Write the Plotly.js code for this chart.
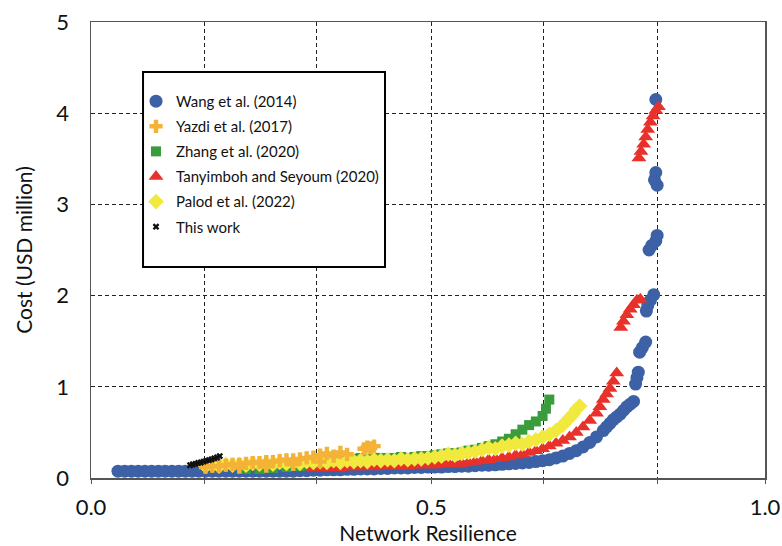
<!DOCTYPE html>
<html>
<head>
<meta charset="utf-8">
<script src="https://cdn.plot.ly/plotly-3.0.1.min.js"></script>
<style>html,body{margin:0;padding:0;background:#fff;}#chart{width:782px;height:546px;}</style>
</head>
<body>
<div id="chart"></div>
<script>
// ---- Data ----
const seriesNames = ["Wang et al. (2014)", "Yazdi et al. (2017)", "Zhang et al. (2020)", "Tanyimboh and Seyoum (2020)", "Palod et al. (2022)", "This work"];

const wangX = [0.04,0.05,0.06,0.07,0.08,0.09,0.10,0.11,0.12,0.13,0.14,0.15,0.16,0.17,0.18,0.19,0.20,0.21,0.22,0.23,0.24,0.25,0.26,0.27,0.28,0.29,0.30,
  0.31,0.32,0.33,0.34,0.35,0.36,0.37,0.38,0.39,0.40,0.41,0.42,0.43,0.44,0.45,0.46,0.47,0.48,0.49,0.50,0.51,0.52,0.53,0.54,0.55,0.56,0.57,0.58,0.59,0.60,
  0.61,0.62,0.63,0.64,0.65,0.66,0.67,0.68,0.69,0.70,0.71,0.72,0.73,0.74,0.75,0.76,0.765,0.77,0.775,0.78,0.785,0.79,0.795,0.80,0.805,
  0.808,0.810,0.812,0.814,0.818,0.823,0.824,0.826,0.830,0.835,0.828,0.832,0.838,0.840,0.840,0.836,0.838,0.838];
const wangY = [0.075,0.075,0.075,0.075,0.075,0.075,0.075,0.075,0.075,0.075,0.075,0.075,0.075,0.075,0.075,0.075,0.075,0.075,0.075,0.075,0.075,0.075,0.075,0.075,0.075,0.075,0.075,
  0.08,0.08,0.085,0.085,0.09,0.09,0.09,0.095,0.095,0.10,0.10,0.10,0.105,0.105,0.11,0.11,0.11,0.115,0.115,0.12,0.12,0.12,0.125,0.125,0.13,0.13,0.135,0.14,0.14,0.145,
  0.15,0.155,0.16,0.165,0.17,0.18,0.19,0.20,0.22,0.24,0.27,0.30,0.34,0.39,0.45,0.52,0.56,0.60,0.64,0.67,0.70,0.74,0.78,0.81,0.84,
  1.03,1.10,1.16,1.38,1.43,1.49,1.83,1.89,1.95,2.01,2.50,2.55,2.60,2.66,3.21,3.27,3.35,4.15];

const yazdiX = [0.17,0.18,0.19,0.20,0.21,0.22,0.23,0.24,0.25,0.26,0.27,0.28,0.29,0.30,0.31,0.32,0.33,0.34,0.35,0.36,0.37,0.38,0.405,0.41,0.415,0.42,
  0.22,0.26,0.30,0.34];
const yazdiY = [0.12,0.13,0.13,0.14,0.15,0.15,0.16,0.17,0.17,0.18,0.18,0.19,0.20,0.20,0.21,0.22,0.23,0.25,0.27,0.24,0.28,0.26,0.32,0.34,0.33,0.35,
  0.12,0.13,0.15,0.18];

const zhangX = [0.23,0.25,0.27,0.29,0.31,0.33,0.34,0.35,0.36,0.37,0.38,0.39,0.40,0.41,0.42,0.43,0.44,0.45,0.46,0.47,0.48,0.49,0.50,0.51,0.52,0.53,0.54,0.55,0.56,0.57,0.58,0.59,0.60,0.61,0.62,0.63,0.64,0.65,0.66,0.67,0.675,0.68];
const zhangY = [0.10,0.10,0.11,0.12,0.13,0.16,0.19,0.20,0.21,0.20,0.21,0.21,0.22,0.21,0.22,0.22,0.21,0.22,0.23,0.22,0.23,0.24,0.24,0.25,0.26,0.27,0.27,0.28,0.30,0.31,0.33,0.35,0.37,0.40,0.43,0.48,0.53,0.58,0.62,0.68,0.76,0.86];

const tanyX = [0.33,0.34,0.35,0.36,0.37,0.38,0.39,0.40,0.41,0.42,0.43,0.44,0.45,0.46,0.47,0.48,0.49,0.50,0.51,0.52,0.53,0.54,0.55,0.56,0.57,0.58,0.59,0.60,
  0.61,0.62,0.63,0.64,0.65,0.66,0.67,0.68,0.69,0.70,0.71,0.72,0.73,0.74,0.75,0.755,0.76,0.765,0.77,0.775,0.78,
  0.786,0.790,0.795,0.800,0.805,0.810,0.815,
  0.813,0.816,0.820,0.823,0.826,0.830,0.834,0.838,0.842];
const tanyY = [0.11,0.12,0.11,0.12,0.11,0.12,0.12,0.12,0.13,0.12,0.13,0.13,0.13,0.14,0.13,0.14,0.14,0.15,0.14,0.15,0.16,0.15,0.16,0.17,0.18,0.19,0.20,0.21,
  0.22,0.23,0.25,0.26,0.28,0.30,0.32,0.35,0.38,0.41,0.45,0.50,0.56,0.63,0.71,0.78,0.86,0.92,0.98,1.06,1.15,
  1.65,1.72,1.79,1.85,1.90,1.95,1.96,
  3.51,3.58,3.66,3.74,3.82,3.90,3.97,4.03,4.07];

const palodX = [0.17,0.18,0.19,0.20,0.21,0.22,0.23,0.24,0.25,0.26,0.27,0.28,0.29,0.30,0.31,0.32,0.33,0.34,0.35,0.36,0.37,0.38,0.39,0.40,0.41,0.42,0.43,0.44,0.45,0.46,0.47,0.48,0.49,0.50,
  0.51,0.52,0.53,0.54,0.55,0.56,0.57,0.58,0.59,0.60,0.61,0.62,0.63,0.64,0.65,0.66,0.67,0.68,0.69,0.70,0.705,0.71,0.715,0.72,0.725];
const palodY = [0.13,0.14,0.13,0.15,0.14,0.15,0.14,0.16,0.15,0.16,0.15,0.17,0.16,0.17,0.16,0.18,0.17,0.18,0.17,0.19,0.17,0.19,0.18,0.19,0.18,0.20,0.19,0.20,0.19,0.21,0.20,0.21,0.21,0.22,
  0.23,0.24,0.26,0.25,0.27,0.28,0.29,0.31,0.33,0.32,0.35,0.36,0.38,0.37,0.40,0.42,0.45,0.48,0.52,0.58,0.62,0.66,0.70,0.75,0.79];

const thisX = [0.147,0.151,0.155,0.159,0.163,0.167,0.171,0.175,0.179,0.183,0.187,0.191];
const thisY = [0.14,0.15,0.155,0.165,0.17,0.18,0.19,0.195,0.205,0.215,0.225,0.24];

const xTickVals = [0, 0.168, 0.335, 0.505, 0.671, 0.84, 1.0];
const xTickText = ["0.0", "", "", "0.5", "", "", "1.0"];
const yTickVals = [0, 1, 2, 3, 4, 5];
const yTickText = ["0", "1", "2", "3", "4", "5"];

// ---- Styles ----
const FONT = "Lato, 'Open Sans', sans-serif";
function tr(name, x, y, color, symbol, size, rank) {
  return {
    type: "scatter", mode: "markers", name: name, x: x, y: y,
    legendgroup: "g" + rank, legendrank: rank,
    marker: {color: color, symbol: symbol, size: size, line: {width: 0}},
    hoverinfo: "skip"
  };
}
const traces = [
  tr(seriesNames[0], wangX, wangY, "#3C61A6", "circle", 13, 1),
  tr(seriesNames[2], zhangX, zhangY, "#3A9D3C", "square", 10, 3),
  tr(seriesNames[3], tanyX, tanyY, "#E8312A", "triangle-up", 13, 4),
  tr(seriesNames[4], palodX, palodY, "#F2E93E", "diamond", 12, 5),
  tr(seriesNames[1], yazdiX, yazdiY, "#F4B236", "cross", 11, 2),
  tr(seriesNames[5], thisX, thisY, "#111111", "x", 6, 6)
];

const layout = {
  width: 782, height: 546,
  margin: {l: 91, r: 17, t: 22, b: 68},
  paper_bgcolor: "#fff", plot_bgcolor: "#fff",
  font: {family: FONT, color: "#111"},
  showlegend: true,
  legend: {
    x: 0.0668, xanchor: "left", y: 0.862, yanchor: "top",
    bgcolor: "rgba(0,0,0,0)", borderwidth: 0,
    font: {family: FONT, size: 15, color: "#111"},
    tracegroupgap: 2.6, itemsizing: "trace"
  },
  xaxis: {
    range: [0, 1], tickvals: xTickVals, ticktext: xTickText,
    showgrid: true, gridcolor: "#222", gridwidth: 1, griddash: "4px,3px",
    showline: true, linecolor: "#555", linewidth: 1.5, mirror: true,
    ticks: "outside", ticklen: 4, tickcolor: "#555", ticklabelstandoff: 5,
    zeroline: false, tickfont: {family: FONT, size: 22, color: "#111"},
    title: {text: "Network Resilience", font: {family: FONT, size: 21, color: "#111"}, standoff: 7}
  },
  yaxis: {
    range: [0, 5], tickvals: yTickVals, ticktext: yTickText,
    showgrid: true, gridcolor: "#222", gridwidth: 1, griddash: "4px,3px",
    showline: true, linecolor: "#555", linewidth: 1.5, mirror: true,
    ticks: "", ticklabelstandoff: 16,
    zeroline: false, tickfont: {family: FONT, size: 22, color: "#111"},
    title: {text: "Cost (USD million)", font: {family: FONT, size: 21, color: "#111"}, standoff: 18}
  },
  shapes: [{
    type: "rect", xref: "paper", yref: "paper",
    x0: 0.0772, x1: 0.4362, y0: 0.4627, y1: 0.8904,
    fillcolor: "#fff", line: {color: "#000", width: 2}, layer: "above"
  }]
};

Plotly.newPlot("chart", traces, layout, {displayModeBar: false, staticPlot: true});
</script>
</body>
</html>
